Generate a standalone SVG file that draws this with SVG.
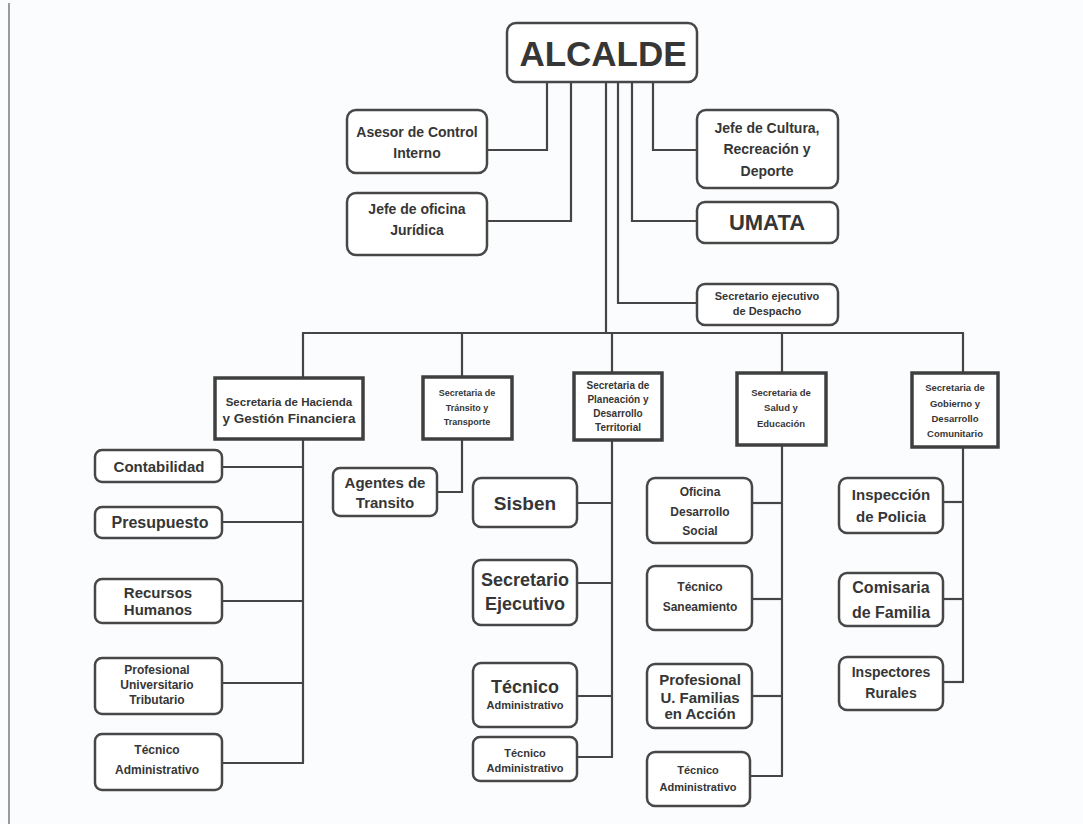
<svg xmlns="http://www.w3.org/2000/svg" width="1083" height="824" viewBox="0 0 1083 824">
<style>
.bg{fill:#fbfcfd}
.box{fill:#ffffff;stroke:#474747;stroke-width:2.5}
.sec{fill:#ffffff;stroke:#3f3f3f;stroke-width:3.5}
.ln{fill:none;stroke:#454545;stroke-width:2.2}
text{font-family:"Liberation Sans",Arial,sans-serif;font-weight:bold;fill:#363636;text-anchor:middle}
</style>
<rect class="bg" x="0" y="0" width="1083" height="824"/>
<line x1="9" y1="3" x2="9" y2="824" stroke="#9a9a9a" stroke-width="2"/>
<g id="connectors">
<polyline class="ln" points="547,82 547,150 487,150"/>
<polyline class="ln" points="571,82 571,221 487,221"/>
<polyline class="ln" points="618,82 618,303 697,303"/>
<polyline class="ln" points="632,82 632,221 697,221"/>
<polyline class="ln" points="653,82 653,150 697,150"/>
<line class="ln" x1="606" y1="82" x2="606" y2="333"/>
<line class="ln" x1="302" y1="333" x2="964" y2="333"/>
<line class="ln" x1="303" y1="333" x2="303" y2="378"/>
<line class="ln" x1="462" y1="333" x2="462" y2="377"/>
<line class="ln" x1="612" y1="333" x2="612" y2="373"/>
<line class="ln" x1="782" y1="333" x2="782" y2="373"/>
<line class="ln" x1="963" y1="333" x2="963" y2="373"/>
<line class="ln" x1="303" y1="439" x2="303" y2="763"/>
<line class="ln" x1="222" y1="467" x2="303" y2="467"/>
<line class="ln" x1="222" y1="522" x2="303" y2="522"/>
<line class="ln" x1="222" y1="601" x2="303" y2="601"/>
<line class="ln" x1="222" y1="683" x2="303" y2="683"/>
<line class="ln" x1="222" y1="763" x2="304" y2="763"/>
<polyline class="ln" points="462,439 462,492 437,492"/>
<line class="ln" x1="612" y1="440" x2="612" y2="757"/>
<line class="ln" x1="577" y1="503" x2="612" y2="503"/>
<line class="ln" x1="577" y1="583" x2="612" y2="583"/>
<line class="ln" x1="577" y1="696" x2="612" y2="696"/>
<line class="ln" x1="577" y1="757" x2="613" y2="757"/>
<line class="ln" x1="782" y1="445" x2="782" y2="776"/>
<line class="ln" x1="752" y1="503" x2="782" y2="503"/>
<line class="ln" x1="752" y1="599" x2="782" y2="599"/>
<line class="ln" x1="752" y1="696" x2="782" y2="696"/>
<line class="ln" x1="750" y1="776" x2="783" y2="776"/>
<line class="ln" x1="963" y1="447" x2="963" y2="682"/>
<line class="ln" x1="943" y1="502" x2="963" y2="502"/>
<line class="ln" x1="943" y1="599" x2="963" y2="599"/>
<line class="ln" x1="943" y1="682" x2="964" y2="682"/>
</g>
<g id="alcalde"><rect class="box" x="507" y="23" width="190" height="59" rx="9"/><text x="603" y="66" font-size="35">ALCALDE</text></g>
<g id="asesor"><rect class="box" x="347" y="110" width="140" height="63" rx="9"/><text x="417" y="137" font-size="14">Asesor de Control</text><text x="417" y="158" font-size="14">Interno</text></g>
<g id="juridica"><rect class="box" x="347" y="193" width="140" height="62" rx="9"/><text x="417" y="214" font-size="14">Jefe de oficina</text><text x="417" y="235" font-size="14">Jurídica</text></g>
<g id="cultura"><rect class="box" x="697" y="110" width="141" height="78" rx="9"/><text x="767" y="133" font-size="14">Jefe de Cultura,</text><text x="767" y="154" font-size="14">Recreación y</text><text x="767" y="176" font-size="14">Deporte</text></g>
<g id="umata"><rect class="box" x="697" y="202" width="141" height="41" rx="8"/><text x="767" y="230" font-size="22">UMATA</text></g>
<g id="despacho"><rect class="box" x="697" y="284" width="141" height="41" rx="8"/><text x="767" y="300" font-size="11">Secretario ejecutivo</text><text x="767" y="315" font-size="11">de Despacho</text></g>
<g id="hacienda"><rect class="sec" x="215" y="378" width="148" height="61"/><text x="289" y="406" font-size="11.5">Secretaria de Hacienda</text><text x="289" y="423" font-size="13.5">y Gestión Financiera</text></g>
<g id="transito"><rect class="sec" x="423" y="377" width="89" height="62"/><text x="467" y="396" font-size="9">Secretaria de</text><text x="467" y="411" font-size="9">Tránsito y</text><text x="467" y="425" font-size="9">Transporte</text></g>
<g id="planeacion"><rect class="sec" x="574" y="373" width="88" height="67"/><text x="618" y="389" font-size="10">Secretaria de</text><text x="618" y="403" font-size="10">Planeación y</text><text x="618" y="417" font-size="10">Desarrollo</text><text x="618" y="431" font-size="10">Territorial</text></g>
<g id="salud"><rect class="sec" x="737" y="373" width="89" height="72"/><text x="781" y="396" font-size="9.5">Secretaria de</text><text x="781" y="411" font-size="9.5">Salud y</text><text x="781" y="427" font-size="9.5">Educación</text></g>
<g id="gobierno"><rect class="sec" x="912" y="373" width="86" height="74"/><text x="955" y="391" font-size="9.5">Secretaria de</text><text x="955" y="407" font-size="9.5">Gobierno y</text><text x="955" y="422" font-size="9.5">Desarrollo</text><text x="955" y="437" font-size="9.5">Comunitario</text></g>
<g id="contabilidad"><rect class="box" x="95" y="450" width="127" height="32" rx="7"/><text x="159" y="472" font-size="15">Contabilidad</text></g>
<g id="presupuesto"><rect class="box" x="95" y="507" width="127" height="31" rx="7"/><text x="160" y="528" font-size="16">Presupuesto</text></g>
<g id="rrhh"><rect class="box" x="95" y="579" width="127" height="44" rx="7"/><text x="158" y="598" font-size="15">Recursos</text><text x="158" y="615" font-size="15">Humanos</text></g>
<g id="tributario"><rect class="box" x="95" y="658" width="127" height="56" rx="7"/><text x="157" y="674" font-size="12">Profesional</text><text x="157" y="689" font-size="12">Universitario</text><text x="157" y="704" font-size="12">Tributario</text></g>
<g id="tecnico-hacienda"><rect class="box" x="95" y="734" width="127" height="56" rx="7"/><text x="157" y="754" font-size="12">Técnico</text><text x="157" y="774" font-size="12">Administrativo</text></g>
<g id="agentes"><rect class="box" x="333" y="468" width="104" height="48" rx="7"/><text x="385" y="488" font-size="15">Agentes de</text><text x="385" y="508" font-size="15">Transito</text></g>
<g id="sisben"><rect class="box" x="473" y="478" width="104" height="49" rx="8"/><text x="525" y="510" font-size="19">Sisben</text></g>
<g id="sec-ejecutivo"><rect class="box" x="473" y="560" width="104" height="65" rx="8"/><text x="525" y="586" font-size="18">Secretario</text><text x="525" y="610" font-size="18">Ejecutivo</text></g>
<g id="tecnico-plan1"><rect class="box" x="473" y="663" width="104" height="64" rx="8"/><text x="525" y="693" font-size="18">Técnico</text><text x="525" y="709" font-size="11">Administrativo</text></g>
<g id="tecnico-plan2"><rect class="box" x="473" y="737" width="104" height="44" rx="7"/><text x="525" y="757" font-size="11">Técnico</text><text x="525" y="772" font-size="11">Administrativo</text></g>
<g id="desarrollo-social"><rect class="box" x="647" y="478" width="105" height="65" rx="8"/><text x="700" y="496" font-size="12">Oficina</text><text x="700" y="516" font-size="12">Desarrollo</text><text x="700" y="535" font-size="12">Social</text></g>
<g id="saneamiento"><rect class="box" x="647" y="566" width="105" height="64" rx="8"/><text x="700" y="591" font-size="12">Técnico</text><text x="700" y="611" font-size="12">Saneamiento</text></g>
<g id="familias"><rect class="box" x="647" y="664" width="105" height="64" rx="8"/><text x="700" y="685" font-size="15">Profesional</text><text x="700" y="703" font-size="15">U. Familias</text><text x="700" y="719" font-size="15">en Acción</text></g>
<g id="tecnico-salud"><rect class="box" x="647" y="752" width="103" height="54" rx="8"/><text x="698" y="774" font-size="11">Técnico</text><text x="698" y="791" font-size="11">Administrativo</text></g>
<g id="policia"><rect class="box" x="839" y="478" width="104" height="55" rx="8"/><text x="891" y="500" font-size="15">Inspección</text><text x="891" y="522" font-size="15">de Policia</text></g>
<g id="comisaria"><rect class="box" x="839" y="573" width="104" height="53" rx="8"/><text x="891" y="593" font-size="16">Comisaria</text><text x="891" y="618" font-size="16">de Familia</text></g>
<g id="rurales"><rect class="box" x="839" y="657" width="104" height="53" rx="8"/><text x="891" y="677" font-size="14">Inspectores</text><text x="891" y="698" font-size="14">Rurales</text></g>
</svg>
